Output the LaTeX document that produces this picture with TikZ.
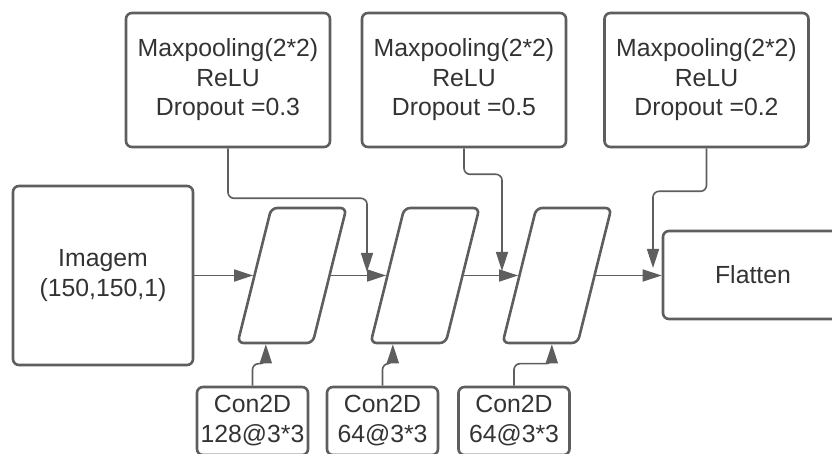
\documentclass[tikz,border=0pt]{standalone}
\usepackage{fontspec}
\setmainfont{Liberation Sans}
\usetikzlibrary{arrows.meta,shapes.geometric}
\definecolor{edge}{HTML}{5E5E5E}
\definecolor{ink}{HTML}{333333}
\newcommand{\Slab}{\phantom{\rule{20.7pt}{67.5pt}}}

\begin{document}
\begin{tikzpicture}[
                    x=0.5pt, y=-0.5pt,
                    >={Triangle[length=9.5pt,width=6pt]},
                    box/.style={draw=edge, line width=1.3pt, rounded corners=3pt,
                        text=ink, align=center, inner sep=0pt,
                        font=\fontsize{12.4}{14.75}\selectfont},
                    layer/.style={draw=edge, line width=1.3pt, rounded corners=3pt,
                        trapezium, trapezium left angle=76, trapezium right angle=104,
                        inner sep=0pt},
                    conn/.style={draw=edge, line width=0.8pt, rounded corners=3pt}]

                \useasboundingbox (0,0) rectangle (832,454);

                % pooling blocks on top
                \draw(228,80) node[box, minimum width=102pt, minimum height=67pt] (M1)
                {Maxpooling(2*2)\\ReLU\\Dropout =0.3};
                \draw(464,80) node[box, minimum width=102pt, minimum height=67pt] (M2)
                {Maxpooling(2*2)\\ReLU\\Dropout =0.5};
                \draw(706.5,80) node[box, minimum width=102pt, minimum height=67pt] (M3)
                {Maxpooling(2*2)\\ReLU\\Dropout =0.2};

                % input, layers and output
                \draw(103,275.5) node[box, minimum width=90pt, minimum height=89.5pt] (Img)
                {Imagem\\(150,150,1)};
                \draw(292,275.5) node[layer] (P1) {\Slab};
                \draw(425,275.5) node[layer] (P2) {\Slab};
                \draw(557,275.5) node[layer] (P3) {\Slab};
                \draw(753,275) node[box, minimum width=90pt, minimum height=44pt] (Flat)
                {Flatten};

                % conv blocks below
                \draw(252.5,421) node[box, minimum width=55.5pt, minimum height=34pt,
                    font=\fontsize{12.4}{15}\selectfont] (C1) {Con2D\\128@3*3};
                \draw(382.5,421) node[box, minimum width=55.5pt, minimum height=34pt,
                    font=\fontsize{12.4}{15}\selectfont] (C2) {Con2D\\64@3*3};
                \draw(514,421) node[box, minimum width=55.5pt, minimum height=34pt,
                    font=\fontsize{12.4}{15}\selectfont] (C3) {Con2D\\64@3*3};

                \coordinate (J1) at (367,272);
                \coordinate (J2) at (502,271);
                \coordinate (J3) at (653,268);

                \draw[conn,->] (Img) -- (P1.left side);
                \draw[conn,->] (P1.right side) -- (P2.left side);
                \draw[conn,->] (P2.right side) -- (P3.left side);
                \draw[conn,->] (P3.right side) -- (Flat.west |- P3.right side);

                \draw[conn,->] (M1.south) -- ++(0,50) -| (J1);
                \draw[conn,->] (M2.south) -- ++(0,26) -| (J2);
                \draw[conn,->] (M3.south) -- ++(0,43) -| (J3);

                \draw[conn,->] (C1.north) -- ++(0,-22) -| ([xshift=-4.5pt]P1.bottom side);
                \draw[conn,->] (C2.north) -- ++(0,-22) -| ([xshift=-7.5pt]P2.bottom side);
                \draw[conn,->] (C3.north) -- ++(0,-22) -| ([xshift=6pt]P3.bottom side);

            \end{tikzpicture}
\end{document}
